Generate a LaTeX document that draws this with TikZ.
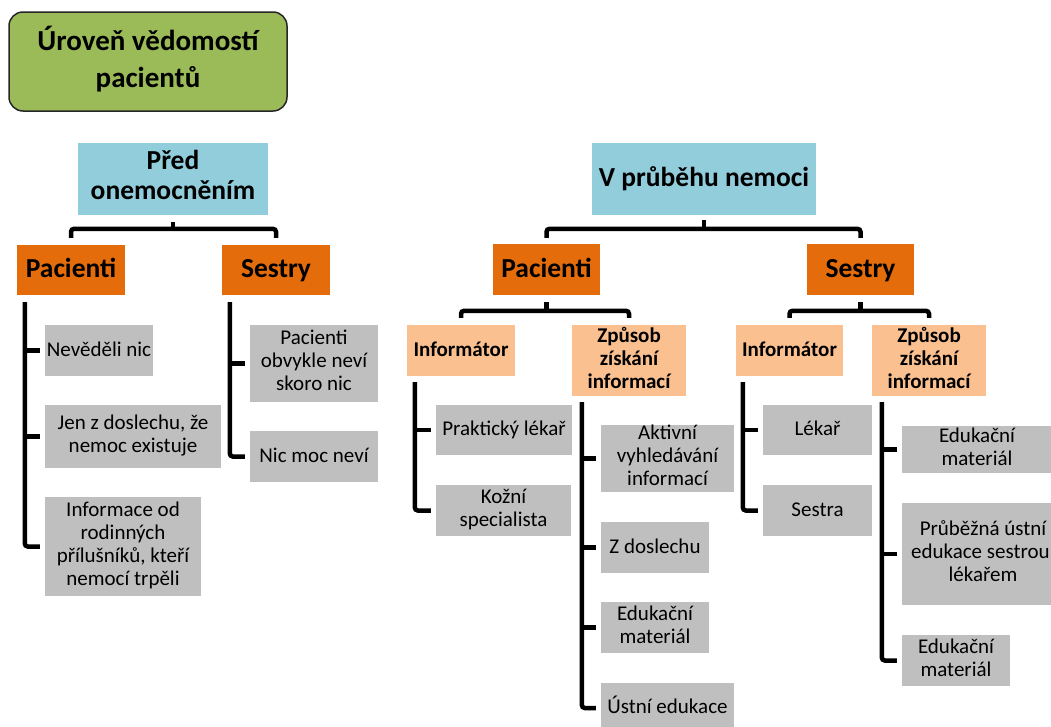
\documentclass[tikz,border=0pt]{standalone}
\usepackage{fontspec}
\setmainfont{Carlito}
\definecolor{tgreen}{HTML}{9BBB59}
\definecolor{tblue}{HTML}{92CDDC}
\definecolor{torange}{HTML}{E46C0A}
\definecolor{tpeach}{HTML}{FAC090}
\definecolor{tgray}{HTML}{BFBFBF}
\newcommand\boxstrut{\rule[-0.25\baselineskip]{0pt}{\baselineskip}}
\begin{document}
\begin{tikzpicture}[x=1pt,y=-1pt,
 box/.style={inner sep=0pt, align=center, anchor=center,
   execute at begin node={\boxstrut}, execute at end node={\boxstrut}},
 titlebox/.style={box, fill=tgreen, draw=black!85, line width=1.5pt, rounded corners=14pt, font=\fontsize{29}{37}\selectfont\bfseries},
 topbox/.style={box, fill=tblue, font=\fontsize{27.5}{30}\selectfont\bfseries},
 midbox/.style={box, fill=torange, font=\fontsize{27.5}{30}\selectfont\bfseries},
 subbox/.style={box, fill=tpeach, font=\fontsize{21}{23}\selectfont\bfseries},
 leafbox/.style={box, fill=tgray, font=\fontsize{21}{23}\selectfont},
 conn/.style={line width=4.5pt, rounded corners=3pt},
]
\useasboundingbox (0,0) rectangle (1051,726);
\clip (0,0) rectangle (1051,726);

% title
\node[titlebox, minimum width=278pt, minimum height=99pt] (title) at (148,61.5) {Úroveň vědomostí\\pacientů};

% left tree
\node[topbox, minimum width=190pt, minimum height=72pt] (pred) at (173,179) {Před\\onemocněním};
\node[midbox, minimum width=108pt, minimum height=50pt] (pacL) at (71,270) {Pacienti};
\node[midbox, minimum width=108pt, minimum height=50pt] (sesL) at (276,270) {Sestry};
\node[leafbox, minimum width=108pt, minimum height=51pt] (nev) at (99,350.5) {Nevěděli nic};
\node[leafbox, minimum width=176pt, minimum height=63pt] (jen) at (133,436.5) {Jen z doslechu, že\\nemoc existuje};
\node[leafbox, minimum width=156pt, minimum height=99pt] (inf) at (123,546.5) {Informace od\\rodinných\\přílušníků, kteří\\nemocí trpěli};
\node[leafbox, minimum width=128pt, minimum height=77pt] (pob) at (314,363.5) {Pacienti\\obvykle neví\\skoro nic};
\node[leafbox, minimum width=128pt, minimum height=51pt] (nic) at (314,456.5) {Nic moc neví};

% right tree
\node[topbox, minimum width=224pt, minimum height=72pt] (vpr) at (704,179) {V průběhu nemoci};
\node[midbox, minimum width=107pt, minimum height=51pt] (pacM) at (546.5,269.5) {Pacienti};
\node[midbox, minimum width=107pt, minimum height=51pt] (sesR) at (860.5,269.5) {Sestry};
\node[subbox, minimum width=108pt, minimum height=51pt] (infM) at (461,350.5) {Informátor};
\node[subbox, minimum width=114pt, minimum height=71pt] (zpM) at (629,360.5) {Způsob\\získání\\informací};
\node[subbox, minimum width=107pt, minimum height=51pt] (infR) at (789.5,350.5) {Informátor};
\node[subbox, minimum width=114pt, minimum height=71pt] (zpR) at (929,360.5) {Způsob\\získání\\informací};

\node[leafbox, minimum width=136pt, minimum height=50pt] (prak) at (504,430) {Praktický lékař};
\node[leafbox, minimum width=135pt, minimum height=51pt] (koz) at (503.5,510.5) {Kožní\\specialista};
\node[leafbox, minimum width=133pt, minimum height=67pt] (akt) at (667.5,458.5) {Aktivní\\vyhledávání\\informací};
\node[leafbox, minimum width=108pt, minimum height=51pt] (zdo) at (655,547.5) {Z doslechu};
\node[leafbox, minimum width=108pt, minimum height=51pt] (edua) at (655,627.5) {Edukační\\materiál};
\node[leafbox, minimum width=133pt, minimum height=50pt] (ust) at (667.5,708) {Ústní edukace};

\node[leafbox, minimum width=109pt, minimum height=50pt] (lek) at (817.5,430) {Lékař};
\node[leafbox, minimum width=109pt, minimum height=51pt] (ses) at (817.5,510.5) {Sestra};
\node[leafbox, minimum width=150pt, minimum height=47pt] (edub) at (977,449.5) {Edukační\\materiál};
\node[leafbox, minimum width=162pt, minimum height=102pt] (prub) at (983,554) {Průběžná ústní\\edukace sestrou,\\lékařem};
\node[leafbox, minimum width=108pt, minimum height=51pt] (educ) at (956,660.5) {Edukační\\materiál};

% brackets
\draw[conn] ([yshift=-7pt]pred.south) -- ([yshift=-14pt]pred.south);
\draw[conn] ([yshift=7pt]pacL.north) -- ([yshift=16pt]pacL.north) -- ([yshift=16pt]sesL.north) -- ([yshift=7pt]sesL.north);

\draw[conn] ([yshift=-5pt]vpr.south) -- ([yshift=-14pt]vpr.south);
\draw[conn] ([yshift=6pt]pacM.north) -- ([yshift=15pt]pacM.north) -- ([yshift=15pt]sesR.north) -- ([yshift=6pt]sesR.north);

\draw[conn] ([yshift=-7pt]pacM.south) -- ([yshift=-16pt]pacM.south);
\draw[conn] ([yshift=7pt]infM.north) -- ([yshift=14pt]infM.north) -- ([yshift=14pt]zpM.north) -- ([yshift=7pt]zpM.north);

\draw[conn] ([yshift=-7pt]sesR.south) -- ([yshift=-16pt]sesR.south);
\draw[conn] ([yshift=7pt]infR.north) -- ([yshift=14pt]infR.north) -- ([yshift=14pt]zpR.north) -- ([yshift=7pt]zpR.north);

% vertical lists
\coordinate (vA) at ([xshift=8pt,yshift=-7pt]pacL.south west);
\draw[conn] (vA) |- ([xshift=-5pt]inf.west);
\draw[conn] (vA |- nev.west) -- ([xshift=-5pt]nev.west);
\draw[conn] (vA |- jen.west) -- ([xshift=-5pt]jen.west);

\coordinate (vB) at ([xshift=8pt,yshift=-7pt]sesL.south west);
\draw[conn] (vB) |- ([xshift=-5pt]nic.west);
\draw[conn] (vB |- pob.west) -- ([xshift=-5pt]pob.west);

\coordinate (vC) at ([xshift=8pt,yshift=-6pt]infM.south west);
\draw[conn] (vC) |- ([xshift=-5pt]koz.west);
\draw[conn] (vC |- prak.west) -- ([xshift=-5pt]prak.west);

\coordinate (vD) at ([xshift=10pt,yshift=-6pt]zpM.south west);
\draw[conn] (vD) |- ([xshift=-5pt]ust.west);
\draw[conn] (vD |- akt.west) -- ([xshift=-5pt]akt.west);
\draw[conn] (vD |- zdo.west) -- ([xshift=-5pt]zdo.west);
\draw[conn] (vD |- edua.west) -- ([xshift=-5pt]edua.west);

\coordinate (vE) at ([xshift=7pt,yshift=-6pt]infR.south west);
\draw[conn] (vE) |- ([xshift=-5pt]ses.west);
\draw[conn] (vE |- lek.west) -- ([xshift=-5pt]lek.west);

\coordinate (vF) at ([xshift=10pt,yshift=-6pt]zpR.south west);
\draw[conn] (vF) |- ([xshift=-5pt]educ.west);
\draw[conn] (vF |- edub.west) -- ([xshift=-5pt]edub.west);
\draw[conn] (vF |- prub.west) -- ([xshift=-5pt]prub.west);
\end{tikzpicture}
\end{document}
